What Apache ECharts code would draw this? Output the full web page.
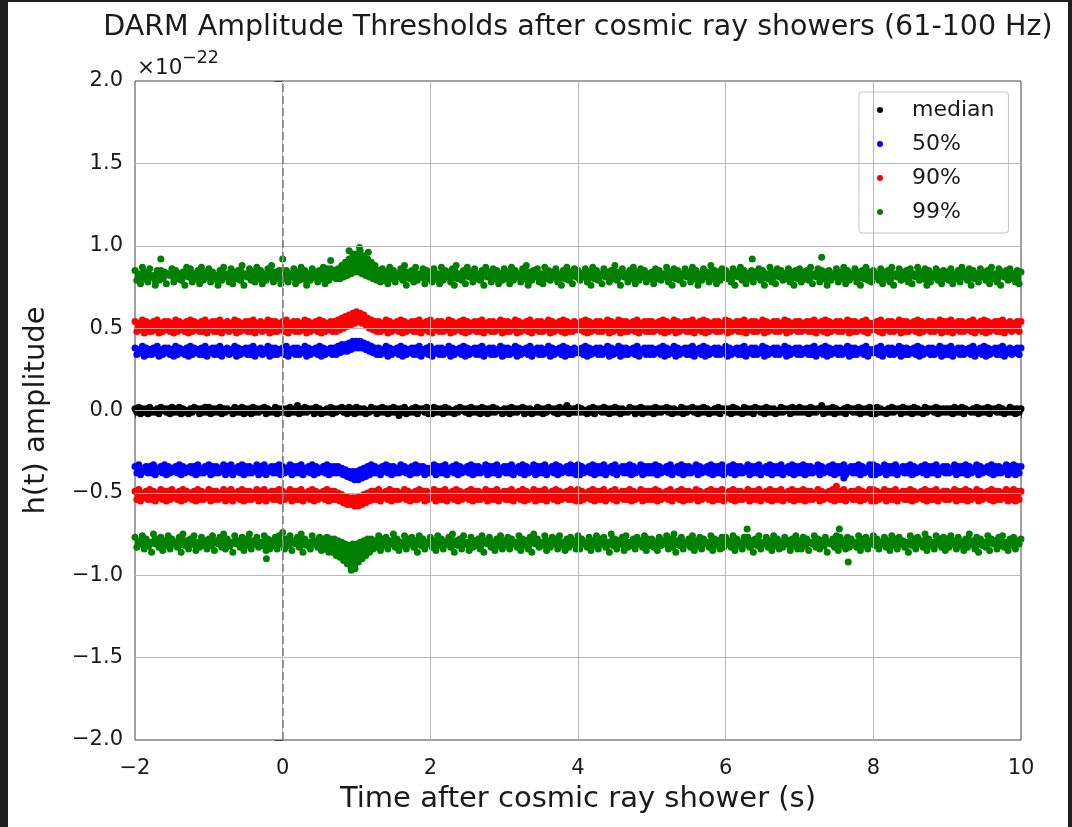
<!DOCTYPE html>
<html>
<head>
<meta charset="utf-8">
<script src="https://cdn.jsdelivr.net/npm/echarts@6/dist/echarts.min.js"></script>
<style>
  html, body { margin: 0; padding: 0; background: #1f1f1f; width: 1072px; height: 827px; overflow: hidden; }
  #chart { position: absolute; left: 8px; top: 2px; width: 1060px; height: 825px; background: #ffffff; }
</style>
</head>
<body>
<div id="chart"></div>
<script>
// ---- Data (amplitudes in units of 1e-24, i.e. hundredths of the ×10⁻²² axis unit) ----
// Each band is read as an upper-edge row (…Hi) and a lower-edge row (…Lo) of the point cloud,
// sampled every 0.05 s from t = -2 s; the lower-edge rows are sampled half a step later.
const TIME_START = -2;
const TIME_STEP = 0.05;
const STAGGER = 0.025;

const xTicks = [-2, 0, 2, 4, 6, 8, 10];
const yTicks = [-2.0, -1.5, -1.0, -0.5, 0.0, 0.5, 1.0, 1.5, 2.0];
const seriesNames = ['median', '50%', '90%', '99%'];

const medianHi = [
  1,2,1,1,2,0,1,2,1,1,2,1,2,1,0,1,2,1,1,2,
  2,1,1,2,1,1,0,2,1,2,1,1,2,1,1,2,1,0,2,1,
  1,1,2,1,3,1,2,1,1,2,1,0,1,2,1,1,2,1,2,1,
  2,1,1,0,2,1,1,2,1,1,2,1,1,2,0,1,2,1,1,2,
  1,2,1,1,2,1,0,1,2,1,1,2,1,1,2,1,1,2,1,0,
  1,1,2,1,1,2,1,1,0,2,1,1,2,1,1,2,1,3,1,1,
  2,1,0,1,2,1,1,2,1,1,2,1,1,0,2,1,1,2,1,1,
  1,2,1,1,2,1,1,0,2,1,1,2,1,1,2,1,0,1,2,1,
  1,1,2,1,0,2,1,1,2,1,1,2,1,1,0,2,1,1,2,1,
  2,1,1,2,1,1,3,1,1,2,1,0,1,2,1,1,2,1,1,2,
  1,2,1,0,1,2,1,1,2,1,1,2,1,0,2,1,1,2,1,1,
  1,1,2,1,2,1,0,1,2,1,1,2,1,1,2,1,0,2,1,1,
  1
];
const medianLo = [
  -1,-2,-1,-2,-1,-1,-2,0,-1,-2,-1,-1,-2,-1,-2,-1,0,-2,-1,-1,
  -2,-1,-1,-2,-1,0,-2,-1,-1,-2,-1,-2,-1,-1,0,-2,-1,-1,-2,-1,
  -1,-2,-1,-1,-2,-1,-1,0,-2,-1,-2,-1,-1,-2,-1,0,-1,-2,-1,-2,
  -1,-1,-2,-1,0,-2,-1,-1,-2,-1,-1,-3,-1,-2,-1,-1,-2,0,-1,-2,
  -2,-1,-1,-2,-1,-1,-2,-1,0,-1,-2,-1,-1,-2,-1,-2,-1,-1,0,-2,
  -1,-2,-1,-1,0,-2,-1,-2,-1,-1,-2,-1,0,-1,-2,-1,-1,-2,-1,-1,
  -1,-1,-2,-1,-2,0,-1,-1,-2,-1,-1,-2,-1,-1,0,-2,-1,-2,-1,-1,
  -2,-1,-1,0,-1,-2,-1,-1,-2,-1,0,-1,-2,-1,-1,-2,-1,-1,-2,0,
  -1,-2,-1,-1,-2,-1,-1,-2,0,-1,-2,-1,-1,-2,-1,-1,0,-2,-1,-1,
  -1,-1,-2,-1,-1,0,-2,-1,-1,-2,-1,-1,-2,0,-1,-1,-2,-1,-1,-2,
  -2,-1,-1,-2,-1,-1,0,-2,-1,-1,-2,-1,-1,-2,-1,0,-1,-2,-1,-1,
  -1,-2,-1,-1,-2,0,-1,-1,-2,-1,-1,-2,0,-1,-1,-2,-1,-1,-2,-1,
  -1
];

const p50UpperHi = [
  38,37,39,38,37,38,39,37,38,38,37,39,38,37,38,39,38,37,38,39,
  37,38,38,39,37,38,37,39,38,37,38,38,39,37,38,37,39,38,38,37,
  38,39,37,38,38,37,39,38,37,38,39,38,37,38,38,39,40,40,41,42,
  42,42,41,40,39,38,38,37,39,38,37,38,39,38,37,38,38,39,37,38,
  39,37,38,38,37,39,38,37,38,39,38,37,38,38,39,37,38,38,37,39,
  38,38,37,39,38,37,38,39,37,38,38,37,39,38,37,38,39,38,37,38,
  37,38,39,38,37,38,38,37,39,38,37,39,38,38,37,38,39,37,38,38,
  38,37,38,39,38,37,39,38,37,38,38,39,37,38,39,38,37,38,38,37,
  39,38,37,38,38,39,37,38,38,37,39,38,37,38,38,37,39,38,37,38,
  38,37,38,38,39,37,38,39,38,37,38,38,37,39,38,38,37,38,39,37,
  37,38,39,37,38,38,37,39,38,38,37,38,39,38,37,38,38,37,39,38,
  38,39,37,38,38,37,38,39,37,38,39,38,37,38,38,39,37,38,37,38,
  38
];
const p50UpperLo = [
  34,35,33,34,34,35,33,34,35,34,33,34,35,34,33,34,35,34,34,33,
  35,34,34,33,35,34,35,33,34,35,34,34,33,35,34,35,33,34,34,35,
  34,33,35,34,34,35,33,34,35,34,33,34,35,34,34,35,36,36,37,38,
  38,38,37,36,35,34,34,35,33,34,35,34,33,34,35,34,34,33,35,34,
  33,35,34,34,35,33,34,35,34,33,34,35,34,34,33,35,34,34,35,33,
  34,34,35,33,34,35,34,33,35,34,34,35,33,34,35,34,33,34,34,35,
  35,34,33,34,35,34,34,35,33,34,35,33,34,34,35,34,33,35,34,34,
  34,35,34,33,34,35,33,34,35,34,34,33,35,34,33,34,35,34,34,35,
  33,34,35,34,34,33,35,34,34,35,33,34,35,34,34,35,33,34,35,34,
  34,35,34,34,33,35,34,33,34,35,34,34,35,33,34,34,35,34,33,35,
  35,34,33,35,34,34,35,33,34,34,35,34,33,34,35,34,34,35,33,34,
  34,33,35,34,34,35,34,33,35,34,33,34,35,34,34,33,35,34,35,34,
  34
];
const p50LowerHi = [
  -34,-33,-35,-34,-34,-33,-35,-34,-33,-34,-35,-34,-33,-34,-35,-34,-34,-33,-35,-34,
  -33,-34,-34,-35,-33,-34,-33,-35,-34,-33,-34,-34,-35,-33,-34,-33,-35,-34,-34,-33,
  -34,-35,-33,-34,-34,-33,-35,-34,-33,-34,-35,-34,-33,-34,-34,-34,-35,-36,-37,-37,
  -37,-36,-35,-34,-33,-34,-35,-34,-33,-34,-34,-35,-33,-34,-35,-34,-33,-34,-34,-35,
  -35,-33,-34,-34,-33,-35,-34,-33,-34,-35,-34,-33,-34,-34,-35,-33,-34,-34,-33,-35,
  -34,-34,-33,-35,-34,-33,-34,-35,-33,-34,-34,-33,-35,-34,-33,-34,-35,-34,-33,-34,
  -33,-34,-35,-34,-33,-34,-34,-33,-35,-34,-33,-35,-34,-34,-33,-34,-35,-33,-34,-34,
  -34,-33,-34,-35,-34,-33,-35,-34,-33,-34,-34,-35,-33,-34,-35,-34,-33,-34,-34,-33,
  -35,-34,-33,-34,-34,-35,-33,-34,-34,-33,-35,-34,-33,-34,-34,-33,-35,-34,-33,-34,
  -34,-33,-34,-34,-35,-33,-34,-35,-34,-33,-34,-34,-33,-35,-34,-34,-33,-34,-35,-33,
  -33,-34,-35,-33,-34,-34,-33,-35,-34,-34,-33,-34,-35,-34,-33,-34,-34,-33,-35,-34,
  -34,-35,-33,-34,-34,-33,-34,-35,-33,-34,-35,-34,-33,-34,-34,-35,-33,-34,-33,-34,
  -34
];
const p50LowerLo = [
  -38,-39,-37,-38,-38,-39,-37,-38,-39,-38,-37,-38,-39,-38,-37,-38,-39,-38,-38,-37,
  -39,-38,-38,-37,-39,-38,-39,-37,-38,-39,-38,-38,-37,-39,-38,-39,-37,-38,-38,-39,
  -38,-37,-39,-38,-38,-39,-37,-38,-39,-38,-37,-38,-39,-38,-38,-38,-39,-40,-41,-42,
  -42,-41,-40,-39,-38,-38,-39,-37,-38,-39,-38,-38,-37,-38,-39,-38,-38,-37,-39,-38,
  -37,-39,-38,-38,-39,-37,-38,-39,-38,-37,-38,-39,-38,-38,-37,-39,-38,-38,-39,-37,
  -38,-38,-39,-37,-38,-39,-38,-37,-39,-38,-38,-39,-37,-38,-39,-38,-37,-38,-38,-39,
  -39,-38,-37,-38,-39,-38,-38,-39,-37,-38,-39,-37,-38,-38,-39,-38,-37,-39,-38,-38,
  -38,-39,-38,-37,-38,-39,-37,-38,-39,-38,-38,-37,-39,-38,-37,-38,-39,-38,-38,-39,
  -37,-38,-39,-38,-38,-37,-39,-38,-38,-39,-37,-38,-39,-38,-38,-39,-37,-38,-39,-38,
  -38,-39,-38,-38,-37,-39,-38,-37,-38,-39,-38,-38,-39,-37,-38,-38,-39,-38,-37,-39,
  -39,-38,-37,-39,-38,-38,-39,-37,-38,-38,-39,-38,-37,-38,-39,-38,-38,-39,-37,-38,
  -38,-37,-39,-38,-38,-39,-38,-37,-39,-38,-37,-38,-39,-38,-38,-37,-39,-38,-39,-38,
  -38
];

const p90UpperHi = [
  54,53,55,54,53,54,55,53,54,54,53,55,54,53,54,55,54,53,54,55,
  53,54,54,55,53,54,53,55,54,53,54,54,55,53,54,53,55,54,54,53,
  54,55,53,54,54,53,55,54,53,54,55,54,53,54,54,55,56,57,58,59,
  60,59,58,56,55,54,54,53,55,54,53,54,55,54,53,54,54,55,53,54,
  55,53,54,54,53,55,54,53,54,55,54,53,54,54,55,53,54,54,53,55,
  54,54,53,55,54,53,54,55,53,54,54,53,55,54,53,54,55,54,53,54,
  53,54,55,54,53,54,54,53,55,54,53,55,54,54,53,54,55,53,54,54,
  54,53,54,55,54,53,55,54,53,54,54,55,53,54,55,54,53,54,54,53,
  55,54,53,54,54,55,53,54,54,53,55,54,53,54,54,53,55,54,53,54,
  54,53,54,54,55,53,54,55,54,53,54,54,53,55,54,54,53,54,55,53,
  53,54,55,53,54,54,53,55,54,54,53,54,55,54,53,54,54,53,55,54,
  54,55,53,54,54,53,54,55,53,54,55,54,53,54,54,55,53,54,53,54,
  54
];
const p90UpperLo = [
  48,49,47,48,48,49,47,48,49,48,47,48,49,48,47,48,49,48,48,47,
  49,48,48,47,49,48,49,47,48,49,48,48,47,49,48,49,47,48,48,49,
  48,47,49,48,48,49,47,48,49,48,47,48,49,48,48,49,50,51,52,53,
  54,53,52,50,49,48,48,49,47,48,49,48,47,48,49,48,48,47,49,48,
  47,49,48,48,49,47,48,49,48,47,48,49,48,48,47,49,48,48,49,47,
  48,48,49,47,48,49,48,47,49,48,48,49,47,48,49,48,47,48,48,49,
  49,48,47,48,49,48,48,49,47,48,49,47,48,48,49,48,47,49,48,48,
  48,49,48,47,48,49,47,48,49,48,48,47,49,48,47,48,49,48,48,49,
  47,48,49,48,48,47,49,48,48,49,47,48,49,48,48,49,47,48,49,48,
  48,49,48,48,47,49,48,47,48,49,48,48,49,47,48,48,49,48,47,49,
  49,48,47,49,48,48,49,47,48,48,49,48,47,48,49,48,48,49,47,48,
  48,47,49,48,48,49,48,47,49,48,47,48,49,48,48,47,49,48,49,48,
  48
];
const p90LowerHi = [
  -49,-48,-50,-49,-48,-49,-50,-48,-49,-49,-48,-50,-49,-48,-49,-50,-49,-48,-49,-50,
  -48,-49,-49,-50,-48,-49,-48,-50,-49,-48,-49,-49,-50,-48,-49,-48,-50,-49,-49,-48,
  -49,-50,-48,-49,-49,-48,-50,-49,-48,-49,-50,-49,-48,-49,-49,-50,-51,-52,-53,-53,
  -53,-52,-51,-50,-49,-49,-48,-50,-49,-48,-49,-49,-50,-48,-49,-50,-49,-48,-49,-49,
  -50,-48,-49,-49,-48,-50,-49,-48,-49,-50,-49,-48,-49,-49,-50,-48,-49,-49,-48,-50,
  -49,-49,-48,-50,-49,-48,-49,-50,-48,-49,-49,-48,-50,-49,-48,-49,-50,-49,-48,-49,
  -48,-49,-50,-49,-48,-49,-49,-48,-50,-49,-48,-50,-49,-49,-48,-49,-50,-48,-49,-49,
  -49,-48,-49,-50,-49,-48,-50,-49,-48,-49,-49,-50,-48,-49,-50,-49,-48,-49,-49,-48,
  -50,-49,-48,-49,-49,-50,-48,-49,-49,-48,-50,-49,-48,-49,-49,-48,-50,-49,-48,-49,
  -49,-48,-49,-49,-50,-48,-49,-50,-49,-48,-49,-49,-48,-50,-49,-49,-48,-49,-50,-48,
  -48,-49,-50,-48,-49,-49,-48,-50,-49,-49,-48,-49,-50,-49,-48,-49,-49,-48,-50,-49,
  -49,-50,-48,-49,-49,-48,-49,-50,-48,-49,-50,-49,-48,-49,-49,-50,-48,-49,-48,-49,
  -49
];
const p90LowerLo = [
  -54,-55,-53,-54,-54,-55,-53,-54,-55,-54,-53,-54,-55,-54,-53,-54,-55,-54,-54,-53,
  -55,-54,-54,-53,-55,-54,-55,-53,-54,-55,-54,-54,-53,-55,-54,-55,-53,-54,-54,-55,
  -54,-53,-55,-54,-54,-55,-53,-54,-55,-54,-53,-54,-55,-54,-54,-55,-56,-57,-57,-58,
  -58,-57,-56,-55,-54,-54,-55,-53,-54,-55,-54,-54,-53,-54,-55,-54,-54,-53,-55,-54,
  -53,-55,-54,-54,-55,-53,-54,-55,-54,-53,-54,-55,-54,-54,-53,-55,-54,-54,-55,-53,
  -54,-54,-55,-53,-54,-55,-54,-53,-55,-54,-54,-55,-53,-54,-55,-54,-53,-54,-54,-55,
  -55,-54,-53,-54,-55,-54,-54,-55,-53,-54,-55,-53,-54,-54,-55,-54,-53,-55,-54,-54,
  -54,-55,-54,-53,-54,-55,-53,-54,-55,-54,-54,-53,-55,-54,-53,-54,-55,-54,-54,-55,
  -53,-54,-55,-54,-54,-53,-55,-54,-54,-55,-53,-54,-55,-54,-54,-55,-53,-54,-55,-54,
  -54,-55,-54,-54,-53,-55,-54,-53,-54,-55,-54,-54,-55,-53,-54,-54,-55,-54,-53,-55,
  -55,-54,-53,-55,-54,-54,-55,-53,-54,-54,-55,-54,-53,-54,-55,-54,-54,-55,-53,-54,
  -54,-53,-55,-54,-54,-55,-54,-53,-55,-54,-53,-54,-55,-54,-54,-53,-55,-54,-55,-54,
  -54
];

const p99UpperHi = [
  85,83,87,84,86,82,85,85,84,83,86,85,83,84,87,86,83,85,87,84,
  86,84,82,85,87,83,86,84,85,88,83,86,84,87,85,83,86,88,84,85,
  85,85,83,86,84,87,85,83,86,84,85,87,86,86,85,86,88,90,92,95,
  95,97,94,92,90,88,85,86,84,87,85,83,86,88,84,85,87,83,86,85,
  84,86,83,87,85,84,86,88,83,85,87,84,86,83,85,87,84,86,85,83,
  86,84,87,85,83,86,88,84,85,86,83,87,85,84,86,83,85,87,84,86,
  85,83,86,84,87,85,83,86,84,85,88,84,86,83,85,87,84,86,85,83,
  84,86,85,83,87,84,86,85,83,86,84,87,85,83,86,84,88,85,84,86,
  85,83,86,84,87,85,83,85,84,86,85,83,87,84,86,85,83,86,84,85,
  86,84,85,87,83,86,85,84,85,83,86,84,87,85,83,86,84,85,87,84,
  85,83,86,84,85,87,83,86,84,85,86,83,87,84,86,85,83,86,84,85,
  84,86,83,85,87,84,86,85,83,86,84,85,87,83,86,84,85,86,83,85,
  84
];
const p99UpperLo = [
  79,77,80,78,81,76,79,80,77,82,78,80,79,76,81,78,80,77,79,81,
  78,80,76,79,81,78,77,80,79,76,81,79,78,80,77,79,81,78,80,77,
  80,78,81,77,79,80,76,79,81,78,80,77,79,81,80,80,81,82,83,84,
  84,83,82,81,80,79,78,79,77,80,78,81,79,76,80,78,79,81,77,80,
  78,80,77,79,81,78,76,80,79,77,81,78,80,79,76,81,78,80,77,79,
  80,77,79,81,78,80,76,79,81,78,77,80,79,81,78,76,80,79,77,81,
  79,81,78,76,80,79,77,81,78,80,79,76,81,78,80,77,79,81,78,80,
  77,80,79,81,78,76,80,79,77,81,78,80,76,79,81,78,80,77,79,81,
  80,78,76,81,79,77,80,78,81,79,76,80,78,77,81,79,80,78,76,80,
  78,80,79,77,81,78,80,76,79,81,78,80,77,79,81,78,76,80,79,78,
  81,79,77,80,78,76,81,79,80,78,77,81,79,80,76,78,81,79,77,80,
  79,77,80,78,81,79,76,80,78,81,79,77,80,78,76,81,79,80,78,77,
  79
];
const p99LowerHi = [
  -77,-79,-76,-78,-80,-75,-78,-77,-79,-76,-78,-80,-77,-75,-79,-78,-76,-80,-77,-79,
  -78,-76,-79,-77,-75,-78,-80,-76,-79,-77,-78,-75,-79,-77,-80,-76,-78,-79,-77,-76,
  -74,-78,-76,-79,-77,-75,-78,-80,-76,-79,-77,-78,-77,-78,-78,-79,-80,-81,-82,-81,
  -81,-80,-79,-78,-78,-79,-76,-78,-77,-79,-75,-78,-80,-76,-78,-77,-79,-76,-78,-80,
  -77,-79,-76,-78,-80,-77,-75,-79,-78,-76,-80,-77,-79,-78,-76,-79,-77,-80,-78,-76,
  -79,-77,-78,-80,-76,-78,-79,-77,-75,-78,-80,-76,-79,-77,-78,-76,-80,-78,-77,-79,
  -76,-78,-80,-77,-79,-76,-78,-77,-80,-75,-78,-79,-77,-76,-80,-78,-77,-79,-76,-78,
  -78,-80,-77,-79,-76,-78,-75,-79,-77,-80,-78,-76,-79,-77,-78,-80,-76,-78,-79,-77,
  -77,-79,-76,-78,-80,-77,-77,-79,-78,-76,-80,-77,-79,-76,-78,-80,-77,-79,-78,-76,
  -79,-77,-78,-80,-76,-78,-79,-77,-80,-78,-76,-77,-79,-77,-78,-80,-76,-78,-77,-79,
  -76,-78,-80,-77,-79,-76,-78,-77,-79,-80,-76,-78,-77,-79,-75,-78,-80,-76,-78,-77,
  -78,-76,-79,-77,-80,-78,-75,-79,-77,-78,-80,-76,-78,-79,-77,-76,-80,-78,-77,-79,
  -78
];
const p99LowerLo = [
  -83,-81,-84,-82,-86,-81,-83,-85,-82,-84,-81,-83,-86,-82,-84,-81,-85,-83,-82,-84,
  -82,-85,-81,-83,-84,-82,-86,-81,-83,-85,-82,-84,-81,-83,-82,-85,-84,-82,-84,-81,
  -84,-82,-85,-81,-83,-86,-82,-84,-81,-83,-85,-84,-86,-86,-88,-89,-91,-93,-95,-94,
  -92,-90,-88,-86,-84,-83,-85,-82,-84,-81,-83,-85,-82,-84,-81,-83,-86,-82,-84,-81,
  -83,-85,-82,-84,-81,-83,-86,-82,-84,-81,-85,-83,-82,-84,-86,-81,-83,-85,-82,-84,
  -82,-84,-81,-83,-85,-82,-84,-86,-81,-83,-82,-85,-83,-81,-84,-82,-85,-83,-81,-84,
  -84,-81,-83,-85,-82,-84,-81,-83,-86,-82,-84,-81,-85,-83,-82,-84,-81,-83,-85,-82,
  -83,-85,-82,-81,-84,-83,-86,-82,-84,-81,-83,-85,-82,-84,-81,-83,-85,-82,-84,-83,
  -81,-83,-85,-82,-84,-81,-83,-86,-82,-84,-81,-83,-85,-82,-84,-83,-81,-85,-82,-84,
  -84,-82,-85,-81,-83,-84,-82,-86,-81,-83,-85,-82,-84,-83,-81,-83,-85,-82,-84,-81,
  -82,-84,-81,-83,-85,-82,-84,-81,-83,-86,-82,-84,-81,-83,-85,-82,-84,-81,-83,-85,
  -83,-81,-84,-82,-85,-83,-81,-84,-86,-82,-83,-85,-81,-84,-82,-83,-85,-82,-84,-81,
  -83
];

// isolated points outside the dense bands: [time (s), amplitude (1e-24)]
const p50Outliers = [[7.6, -41]];
const p90Outliers = [[7.5, -46]];
const p99Outliers = [
  [-1.65, 92], [0.0, 92], [0.65, 91], [0.9, 97], [1.04, 99], [1.16, 96], [6.36, 92], [7.3, 93],
  [-0.22, -90], [0.93, -97], [0.98, -96], [6.29, -72], [7.54, -72], [7.66, -92]
];

// ---- helpers ----
function timeAt(i, offset) { return TIME_START + i * TIME_STEP + offset; }
function toPoints(values, offset) {
  return values.map((v, i) => [timeAt(i, offset), v / 100]);
}
function outlierPoints(list) {
  return list.map(p => [p[0], p[1] / 100]);
}
function fmtMinus(v, digits) {
  const s = Math.abs(v).toFixed(digits);
  return (v < 0 ? '\u2212' : '') + s;
}

const FONT = 'DejaVu Sans';
const TEXT = '#1a1a1a';
const colors = { 'median': '#000000', '50%': '#0000ff', '90%': '#ff0000', '99%': '#008000' };

const bands = [
  { name: 'median', hi: medianHi, lo: medianLo },
  { name: '50%', hi: p50UpperHi, lo: p50UpperLo },
  { name: '50%', hi: p50LowerHi, lo: p50LowerLo },
  { name: '90%', hi: p90UpperHi, lo: p90UpperLo },
  { name: '90%', hi: p90LowerHi, lo: p90LowerLo },
  { name: '99%', hi: p99UpperHi, lo: p99UpperLo },
  { name: '99%', hi: p99LowerHi, lo: p99LowerLo }
];
const outliers = { 'median': [], '50%': p50Outliers, '90%': p90Outliers, '99%': p99Outliers };

const xMin = xTicks[0], xMax = xTicks[xTicks.length - 1];
const yMin = yTicks[0], yMax = yTicks[yTicks.length - 1];

// scatter points: one series per legend entry
const scatterSeries = seriesNames.map(name => {
  let data = [];
  bands.filter(b => b.name === name).forEach(b => {
    data = data.concat(toPoints(b.hi, 0), toPoints(b.lo, STAGGER));
  });
  data = data.concat(outlierPoints(outliers[name]));
  return {
    name: name,
    type: 'scatter',
    data: data,
    symbol: 'circle',
    symbolSize: 7,
    itemStyle: { color: colors[name], opacity: 1 },
    z: 3,
    clip: true,
    silent: true,
    animation: false
  };
});

// grid lines drawn above the points (as in the reference)
const gridLineSeries = {
  type: 'scatter', name: 'gridlines', data: [], z: 5, silent: true,
  markLine: {
    silent: true, symbol: ['none', 'none'], animation: false,
    label: { show: false },
    lineStyle: { color: '#b8b8b8', width: 1, type: 'solid' },
    data: xTicks.filter(v => v > xMin && v < xMax).map(v => ({ xAxis: v }))
      .concat(yTicks.filter(v => v > yMin && v < yMax).map(v => ({ yAxis: v })))
  }
};
const zeroLineSeries = {
  type: 'scatter', name: 'shower', data: [], z: 6, silent: true,
  markLine: {
    silent: true, symbol: ['none', 'none'], animation: false,
    label: { show: false },
    lineStyle: { color: '#7f7f7f', width: 1.6, type: [8, 4] },
    data: [{ xAxis: 0 }]
  }
};

const textGraphics = [
  {
    id: 'title', type: 'text', x: 570, y: 26, z: 10,
    style: {
      text: 'DARM Amplitude Thresholds after cosmic ray showers (61-100 Hz)',
      align: 'center', verticalAlign: 'middle',
      font: '28.5px "DejaVu Sans"', fill: TEXT
    }
  },
  {
    id: 'scaleBase', type: 'text', x: 129, y: 66, z: 10,
    style: { text: '\u00d710', align: 'left', verticalAlign: 'middle',
      font: '21.5px "DejaVu Sans"', fill: TEXT }
  },
  {
    id: 'scaleExp', type: 'text', x: 174, y: 56, z: 10,
    style: { text: '\u221222', align: 'left', verticalAlign: 'middle',
      font: '17.5px "DejaVu Sans"', fill: TEXT }
  }
];

const chart = echarts.init(document.getElementById('chart'), null, { renderer: 'canvas' });
chart.setOption({
  animation: false,
  backgroundColor: '#ffffff',
  grid: {
    left: 127, right: 47, top: 79, bottom: 87,
    show: true, borderColor: '#444', borderWidth: 1, backgroundColor: 'transparent'
  },
  graphic: textGraphics,
  legend: {
    data: seriesNames,
    orient: 'vertical',
    left: 851, top: 90,
    icon: 'circle',
    itemWidth: 6, itemHeight: 6,
    itemGap: 10,
    padding: [6, 14, 9, 18],
    borderColor: '#c4c4c4', borderWidth: 1, borderRadius: 3,
    backgroundColor: '#ffffff',
    textStyle: { fontFamily: FONT, fontSize: 22, color: TEXT, lineHeight: 24, padding: [0, 0, 0, 24] },
    selectedMode: false
  },
  xAxis: {
    type: 'value', min: xMin, max: xMax, interval: 2,
    name: 'Time after cosmic ray shower (s)', nameLocation: 'middle', nameGap: 45,
    nameTextStyle: { fontFamily: FONT, fontSize: 29, color: TEXT },
    axisLine: { show: true, lineStyle: { color: '#444', width: 1 } },
    axisTick: { show: true, length: 8, lineStyle: { color: '#444', width: 1 } },
    axisLabel: { fontFamily: FONT, fontSize: 21, color: TEXT, margin: 18,
      formatter: v => fmtMinus(v, 0) },
    splitLine: { show: false }
  },
  yAxis: {
    type: 'value', min: yMin, max: yMax, interval: 0.5,
    name: 'h(t) amplitude', nameLocation: 'middle', nameGap: 84, nameRotate: 90,
    nameTextStyle: { fontFamily: FONT, fontSize: 29, color: TEXT },
    axisLine: { show: true, lineStyle: { color: '#444', width: 1 } },
    axisTick: { show: true, length: 8, lineStyle: { color: '#444', width: 1 } },
    axisLabel: { fontFamily: FONT, fontSize: 21, color: TEXT, margin: 12,
      formatter: v => fmtMinus(v, 1) },
    splitLine: { show: false }
  },
  series: scatterSeries.concat([gridLineSeries, zeroLineSeries])
});

// dense core of each band: polygon between its upper and lower edge rows,
// positioned through the chart's own axis scales (convertToPixel)
const coreGraphics = bands.map((b, k) => {
  const pts = [];
  b.hi.forEach((v, i) => pts.push(chart.convertToPixel({ gridIndex: 0 }, [timeAt(i, 0), v / 100])));
  for (let i = b.lo.length - 1; i >= 0; i--) {
    pts.push(chart.convertToPixel({ gridIndex: 0 }, [timeAt(i, 0), b.lo[i] / 100]));
  }
  return {
    id: 'core' + k, type: 'polygon', z: 1, silent: true,
    shape: { points: pts },
    style: { fill: colors[b.name], stroke: null }
  };
});
chart.setOption({ graphic: textGraphics.concat(coreGraphics) });
</script>
</body>
</html>
